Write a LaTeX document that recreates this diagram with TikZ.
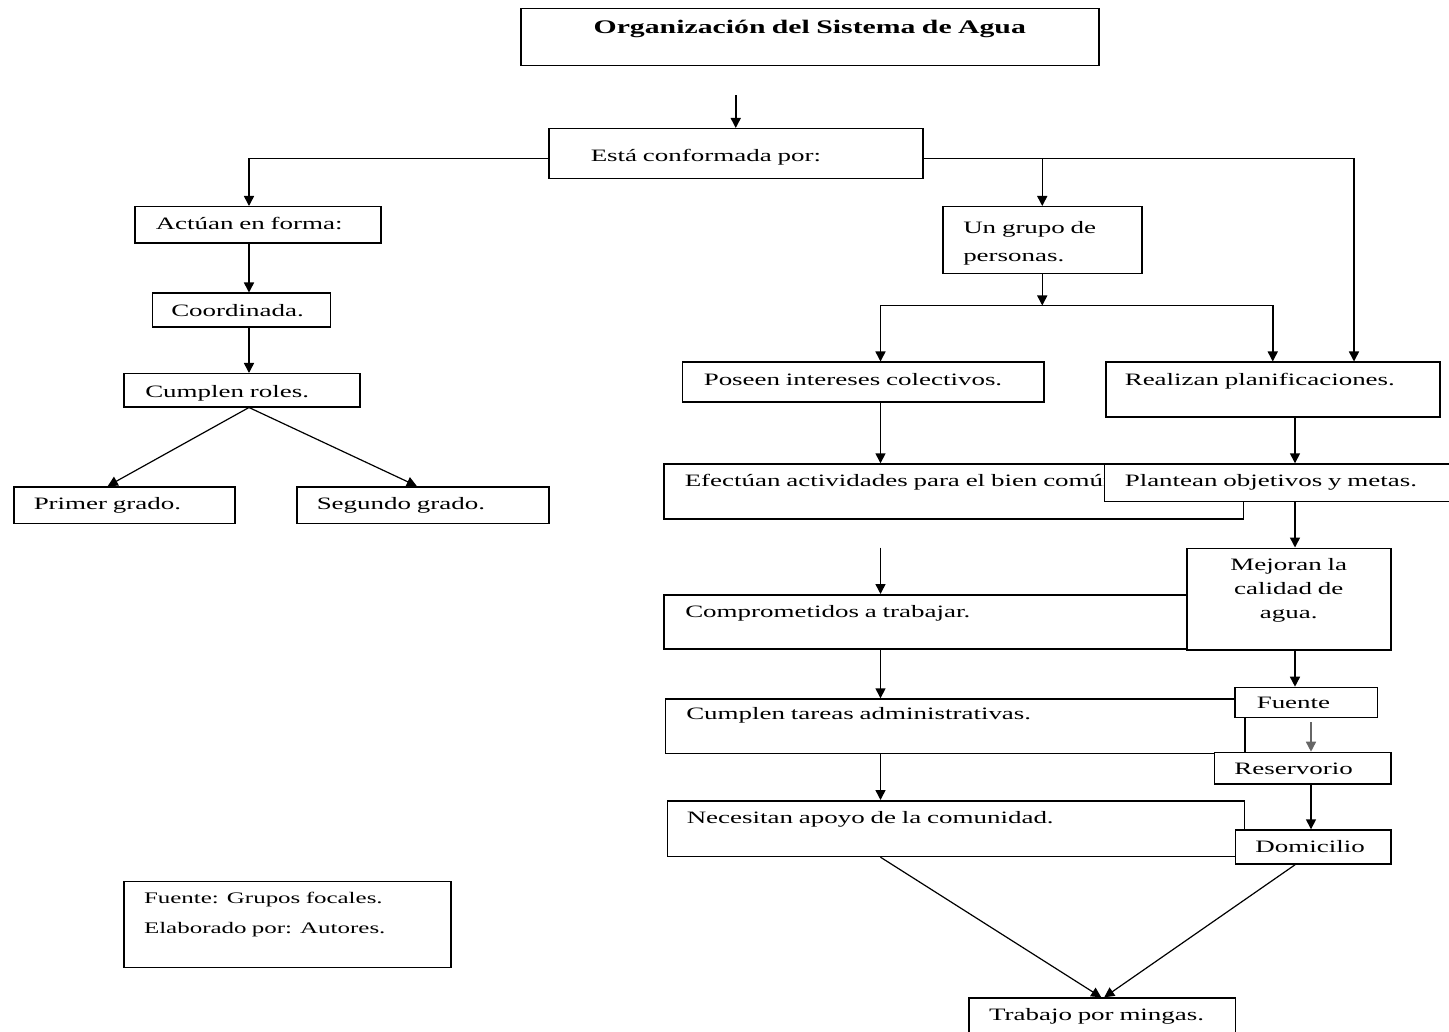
\documentclass[tikz,border=0pt]{standalone}
\usepackage{fontspec}
\setmainfont{Liberation Serif}[FakeStretch=1.55]
\usepackage{tikz}
\usetikzlibrary{arrows.meta}
\usetikzlibrary{calc}

\newcommand{\cuerpo}{\fontsize{17.4}{28}\selectfont}
\newcommand{\titular}{\fontsize{19.2}{24}\selectfont\bfseries}

\begin{document}
\begin{tikzpicture}[
        x=1pt, y=-1pt,
        box/.style={draw, fill=white, line width=1.5pt, anchor=north west, inner ysep=0pt, align=left, font=\cuerpo},
        dims/.style n args={4}{inner xsep=#1pt, text width=#2pt, text height=#3pt, text depth=#4pt},
        arrow/.style={-{Triangle[length=10pt,width=10pt]}, line width=1.5pt}
    ]
        \path[use as bounding box, fill=white] (0,0) rectangle (1449,1032);

        % columns of the arrows
        \coordinate (colA) at (249,0);
        \coordinate (colL) at (880.5,0);
        \coordinate (colR) at (1295,0);
        \coordinate (colF) at (1311,0);
        \coordinate (colE) at (1354,0);

        % top of the chart
        \node[box, align=center, font=\titular, dims={0}{578}{25}{32}] (titulo) at (520,8) {Organización del Sistema de Agua};
        \node[box, dims={42}{290}{33}{17}] (esta) at (548,128) {Está conformada por:};

        % left branch
        \node[box, dims={21}{204}{23}{13.5}] (actuan) at (134,206) {Actúan en forma:};
        \node[box, dims={19}{140}{23}{11}] (coordinada) at (151.5,292.5) {Coordinada.};
        \node[box, dims={21.5}{193}{23.5}{9.5}] (roles) at (123,373) {Cumplen roles.};
        \node[box, dims={20}{181}{23}{13.5}] (primer) at (13,486) {Primer grado.};
        \node[box, dims={20}{212}{23}{13.5}] (segundo) at (296,486) {Segundo grado.};

        % right branch
        \node[box, dims={20.5}{158}{26.7}{40.3}] (grupo) at (942,206) {Un grupo de\\personas.};
        \node[box, dims={21.5}{318.5}{22.8}{16.7}] (poseen) at (681.5,361.5) {Poseen intereses colectivos.};
        \node[box, dims={19}{296}{22.8}{31.7}] (realizan) at (1105,361.5) {Realizan planificaciones.};
        \node[box, dims={21}{537.5}{22.7}{32.3}] (efectuan) at (663,463.3) {Efectúan actividades para el bien común.};
        \node[box, dims={20.5}{309}{22.7}{14.6}] (plantean) at (1103.5,463.3) {Plantean objetivos y metas.};
        \node[box, dims={21.5}{497}{22.7}{31.6}] (comprometidos) at (663,594) {Comprometidos a trabajar.};
        \node[box, align=center, font=\fontsize{17.4}{23.7}\selectfont, dims={0}{204}{22.5}{79}] (mejoran) at (1186,547.5) {Mejoran la\\calidad de\\agua.};
        \node[box, dims={21}{537.5}{20.7}{33.6}] (tareas) at (664.5,698.3) {Cumplen tareas administrativas.};
        \node[box, dims={21.7}{99}{20.6}{9.4}] (fuente) at (1234.3,686.7) {Fuente};
        \node[box, dims={20}{136.3}{22.3}{9.3}] (reservorio) at (1213.7,751.7) {Reservorio};
        \node[box, dims={19.2}{538.6}{22.3}{33.4}] (necesitan) at (666.8,800) {Necesitan apoyo de la comunidad.};
        \node[box, dims={20}{115.4}{22.4}{11.6}] (domicilio) at (1234.6,829.3) {Domicilio};
        \node[box, dims={20}{226.4}{22}{18}] (trabajo) at (968.3,997.3) {Trabajo por mingas.};

        % source note
        \node[box, font=\fontsize{16.1}{30}\selectfont, dims={20}{286.7}{22}{64}] (nota) at (123.3,880.7) {Fuente: Grupos focales.\\Elaborado por: Autores.};

        \coordinate (split) at ([yshift=-31pt]grupo.south);

        % connectors
        \draw[arrow, shorten <=29pt] (titulo.south -| esta.north) -- (esta.north);
        \draw[arrow] ([yshift=-5pt]esta.west) -| (actuan.north -| colA);
        \draw[arrow] ([yshift=-5pt]esta.east) -| (realizan.north -| colE);
        \draw[arrow] ([yshift=-5pt]esta.east -| grupo.north) -- (grupo.north);

        \draw[arrow] (actuan.south -| colA) -- (coordinada.north -| colA);
        \draw[arrow] (coordinada.south -| colA) -- (roles.north -| colA);
        \draw[arrow, line width=1.2pt] (roles.south -| colA) -- ([xshift=-16.5pt]primer.north);
        \draw[arrow, line width=1.2pt] (roles.south -| colA) -- ([xshift=-6pt]segundo.north);

        \draw[arrow] (grupo.south) -- (split);
        \draw[line width=1.5pt] (split -| colL) -- (split -| realizan.north);
        \draw[arrow] (split -| colL) -- (poseen.north -| colL);
        \draw[arrow] (split -| realizan.north) -- (realizan.north);

        \draw[arrow] (poseen.south -| colL) -- (efectuan.north -| colL);
        \draw[arrow, shorten <=27.7pt] (efectuan.south -| colL) -- (comprometidos.north -| colL);
        \draw[arrow] (comprometidos.south -| colL) -- (tareas.north -| colL);
        \draw[arrow] (tareas.south -| colL) -- (necesitan.north -| colL);

        \draw[arrow] (realizan.south -| colR) -- (plantean.north -| colR);
        \draw[arrow] (plantean.south -| colR) -- (mejoran.north -| colR);
        \draw[arrow] (mejoran.south -| colR) -- (fuente.north -| colR);
        \draw[arrow, shorten <=4pt, black!60] (fuente.south -| colF) -- (reservorio.north -| colF);
        \draw[arrow] (reservorio.south -| colF) -- (domicilio.north -| colF);

        \draw[arrow, line width=1.2pt] (necesitan.south -| colL) -- ([xshift=-1pt]trabajo.north);
        \draw[arrow, line width=1.2pt] (domicilio.south -| colR) -- ([xshift=2pt]trabajo.north);
    \end{tikzpicture}
\end{document}
